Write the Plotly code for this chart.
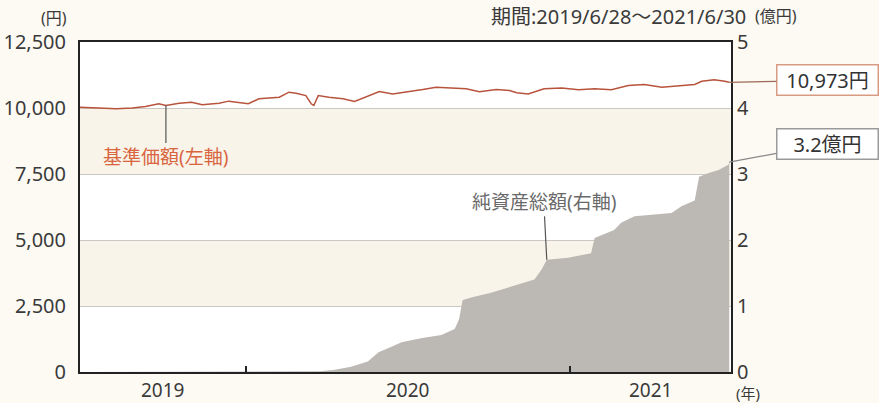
import pandas as pd
import plotly.graph_objects as go

# ---- data ----
nav_dates = ["2019-06-28", "2019-07-19", "2019-08-08", "2019-08-26", "2019-09-10", "2019-09-25",
             "2019-10-03", "2019-10-18", "2019-11-01", "2019-11-13", "2019-12-02", "2019-12-13",
             "2019-12-24", "2020-01-04", "2020-01-16", "2020-02-08", "2020-02-19", "2020-02-27",
             "2020-03-09", "2020-03-15", "2020-03-18", "2020-03-23", "2020-04-04", "2020-04-20",
             "2020-05-03", "2020-05-16", "2020-05-31", "2020-06-15", "2020-06-30", "2020-07-19",
             "2020-08-03", "2020-08-22", "2020-09-06", "2020-09-21", "2020-10-10", "2020-10-25",
             "2020-11-02", "2020-11-15", "2020-12-03", "2020-12-23", "2021-01-11", "2021-01-29",
             "2021-02-17", "2021-03-08", "2021-03-26", "2021-04-15", "2021-05-04", "2021-05-22",
             "2021-05-30", "2021-06-13", "2021-06-25", "2021-06-30"]
nav_values = [10030, 10000, 9970, 10000, 10055, 10160,
              10095, 10180, 10220, 10120, 10180, 10260,
              10220, 10160, 10350, 10410, 10600, 10560,
              10470, 10160, 10095, 10470, 10410, 10350,
              10245, 10410, 10620, 10535, 10600, 10700,
              10785, 10750, 10725, 10620, 10700, 10660,
              10575, 10535, 10725, 10760, 10690, 10725,
              10690, 10850, 10890, 10785, 10850, 10890,
              11010, 11065, 11010, 10973]

aum_dates = ["2019-06-28", "2020-03-10", "2020-03-25", "2020-04-09", "2020-04-29", "2020-05-18",
             "2020-05-30", "2020-06-13", "2020-06-25", "2020-07-17", "2020-08-09", "2020-08-24",
             "2020-08-29", "2020-09-02", "2020-09-15", "2020-10-04", "2020-10-30", "2020-11-22",
             "2020-11-30", "2020-12-06", "2020-12-30", "2021-01-25", "2021-01-29", "2021-02-20",
             "2021-02-28", "2021-03-15", "2021-04-26", "2021-05-07", "2021-05-22", "2021-05-27",
             "2021-06-06", "2021-06-18", "2021-06-29", "2021-06-30"]
aum_values = [0, 0, 0.01, 0.03, 0.08, 0.16,
              0.30, 0.38, 0.45, 0.51, 0.56, 0.65,
              0.80, 1.09, 1.14, 1.20, 1.30, 1.40,
              1.55, 1.70, 1.73, 1.80, 2.03, 2.15,
              2.26, 2.36, 2.41, 2.51, 2.60, 2.96,
              3.01, 3.06, 3.14, 3.18]

left_ticks = [0, 2500, 5000, 7500, 10000, 12500]
right_ticks = [0, 1, 2, 3, 4, 5]
year_labels = ["2019", "2020", "2021"]
year_bounds = ["2020-01-01", "2021-01-01"]
x_start, x_end = "2019-06-28", "2021-07-02"

nav_label = "基準価額(左軸)"
nav_label_date = "2019-10-03"
aum_label = "純資産総額(右軸)"
aum_label_date = "2020-12-06"
nav_box = "10,973円"
aum_box = "3.2億円"
period_text = "期間:2019/6/28～2021/6/30"

FONT = "Noto Sans, Noto Sans CJK JP, sans-serif"
TXT = "#3a3a3a"
ORANGE = "#d9653f"

fig = go.Figure()
fig.add_trace(go.Scatter(x=aum_dates, y=aum_values, yaxis="y2", mode="lines",
                         line=dict(width=0, color="#bcb9b5"), fill="tozeroy",
                         fillcolor="#bcb9b5", hoverinfo="skip", showlegend=False))
fig.add_trace(go.Scatter(x=nav_dates, y=nav_values, mode="lines",
                         line=dict(width=1.5, color="#b8533c"), showlegend=False))

# alternating background bands
for lo, hi in [(7500, 10000), (2500, 5000)]:
    fig.add_shape(type="rect", xref="x domain", yref="y", x0=0, x1=1, y0=lo, y1=hi,
                  fillcolor="#f8f4ea", line=dict(width=0), layer="below")

# year labels centred in visible part of each year
xs, xe = pd.Timestamp(x_start), pd.Timestamp(x_end)
anns = []
for lab in year_labels:
    a = max(pd.Timestamp(f"{lab}-01-01"), xs)
    b = min(pd.Timestamp(f"{int(lab)+1}-01-01"), xe)
    mid = a + (b - a) / 2
    anns.append(dict(x=mid, y=0, xref="x", yref="paper", yshift=-18, text=lab,
                     xanchor="center", yanchor="middle",
                     showarrow=False, font=dict(size=19, color=TXT)))

nav_map = dict(zip(nav_dates, nav_values))
aum_map = dict(zip(aum_dates, aum_values))

anns += [
    dict(x=-0.04, y=1.0, xref="paper", yref="paper", yshift=24, text="(円)", showarrow=False,
         font=dict(size=16, color=TXT), xanchor="center", yanchor="middle"),
    dict(x=1.0255, y=1.0, xref="paper", yref="paper", yshift=26, text=period_text, showarrow=False,
         font=dict(size=20, color=TXT), xanchor="right", yanchor="middle"),
    dict(x=1.034, y=1.0, xref="paper", yref="paper", yshift=26, text="(億円)", showarrow=False,
         font=dict(size=16, color=TXT), xanchor="left", yanchor="middle"),
    dict(x=1.0, y=0, xref="paper", yref="paper", xshift=17, yshift=-21, text="(年)", showarrow=False,
         font=dict(size=15, color=TXT), xanchor="center", yanchor="middle"),
    dict(x=nav_label_date, y=nav_map[nav_label_date], xref="x", yref="y", text=nav_label,
         showarrow=True, arrowhead=0, arrowwidth=1.2, arrowcolor="#555", ax=0, ay=52,
         font=dict(size=19, color=ORANGE)),
    dict(x=aum_label_date, y=aum_map[aum_label_date], xref="x", yref="y2", text=aum_label,
         showarrow=True, arrowhead=0, arrowwidth=1.2, arrowcolor="#555", ax=-3, ay=-58,
         font=dict(size=19, color="#6a6a6a")),
    dict(x=nav_dates[-1], y=nav_values[-1], xref="x", yref="y", text=nav_box,
         showarrow=True, arrowhead=0, arrowwidth=1.2, arrowcolor="#9c6a55", ax=98, ay=-2,
         font=dict(size=20, color="#333"), bgcolor="white", bordercolor="#d99a82",
         borderwidth=1.5, borderpad=2, width=96, height=25),
    dict(x=aum_dates[-1], y=aum_values[-1], xref="x", yref="y2", text=aum_box,
         showarrow=True, arrowhead=0, arrowwidth=1.2, arrowcolor="#888", ax=98, ay=-18,
         font=dict(size=20, color="#333"), bgcolor="white", bordercolor="#9a9a9a",
         borderwidth=1.5, borderpad=2, width=96, height=25),
]

fig.update_layout(
    template="none",
    width=879, height=403,
    margin=dict(l=80, r=148, t=42, b=31, pad=0, autoexpand=False),
    paper_bgcolor="#fdfaf4", plot_bgcolor="white",
    font=dict(family=FONT, size=20, color=TXT),
    showlegend=False,
    annotations=anns,
    xaxis=dict(type="date", range=[x_start, x_end], tickvals=year_bounds, showticklabels=False,
               ticks="inside", ticklen=6, tickwidth=1.5, tickcolor="#222", automargin=False,
               showgrid=False, zeroline=False, showline=True, linecolor="#222", linewidth=2,
               mirror=True),
    yaxis=dict(range=[0, 12500], tickvals=left_ticks, ticktext=[f"{v:,}" for v in left_ticks],
               showgrid=True, gridcolor="#c9c8c2", gridwidth=1.2, zeroline=False, automargin=False,
               showline=True, linecolor="#222", linewidth=2, mirror=True, ticks="",
               ticklabelstandoff=8, tickfont=dict(size=20, color=TXT)),
    yaxis2=dict(range=[0, 5], tickvals=right_ticks, overlaying="y", side="right",
                showgrid=False, zeroline=False, showline=False, ticks="", automargin=False,
                ticklabelstandoff=5, tickfont=dict(size=20, color=TXT)),
)

fig.write_html("out.html", config={"displayModeBar": False},
               post_script="document.body.style.margin='0';")
